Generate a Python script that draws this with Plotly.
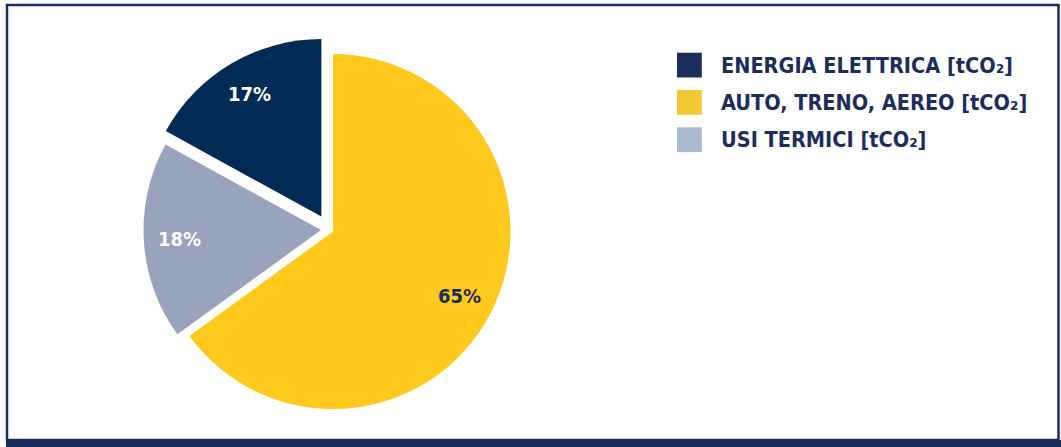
import math
import plotly.graph_objects as go

W, H = 1061, 447

labels = ["ENERGIA ELETTRICA [tCO₂]", "AUTO, TRENO, AEREO [tCO₂]", "USI TERMICI [tCO₂]"]
values = [17, 65, 18]
slice_colors = ["#012b55", "#ffca1d", "#99a3bb"]
legend_colors = ["#1b2d5b", "#f2c932", "#a8b9cb"]
text_colors = ["#ffffff", "#1b2d5b", "#ffffff"]
pulls = [0.0845, 0.0254, 0.045]

NAVY = "#1b2d5b"
FONT = "DejaVu Sans Condensed, Liberation Sans Narrow, Roboto, sans-serif"

# pie geometry (pixels)
CX, CY = 329.0, 229.5
HALF = 192.5
ROT = -61.2


def px(x):
    return x / W


def py(y):
    return 1 - y / H


fig = go.Figure()
fig.add_trace(go.Pie(
    labels=labels,
    values=values,
    sort=False,
    direction="clockwise",
    rotation=ROT,
    pull=pulls,
    marker=dict(colors=slice_colors, line=dict(width=0)),
    textinfo="none",
    showlegend=False,
    hoverinfo="label+percent",
    domain=dict(x=[px(CX - HALF), px(CX + HALF)], y=[py(CY + HALF), py(CY - HALF)]),
))

# percentage labels placed along each slice's bisector
r = HALF / (1 + max(pulls))
total = sum(values)
annotations = []
cum = 0
for v, p, tc in zip(values, pulls, text_colors):
    ang = math.radians(ROT + (cum + v / 2) / total * 360)
    cum += v
    dx, dy = math.sin(ang), -math.cos(ang)
    dist = (p + 0.8) * r
    annotations.append(dict(xref="paper", yref="paper", x=px(CX + dist * dx), y=py(CY + dist * dy),
                            xanchor="center", yanchor="middle", showarrow=False,
                            text="<b>%d%%</b>" % round(v / total * 100),
                            font=dict(family=FONT, size=20, color=tc)))

shapes = [
    dict(type="rect", xref="paper", yref="paper", x0=px(7), x1=px(1058.5), y0=py(440), y1=py(5),
         line=dict(color=NAVY, width=2.5), fillcolor="rgba(0,0,0,0)", layer="below"),
    dict(type="rect", xref="paper", yref="paper", x0=px(6), x1=px(1061), y0=py(447), y1=py(440),
         line=dict(width=0), fillcolor="#192b57"),
]
row_top = 52.7
row_gap = 37.3
sq = 24.8
for i, (lab, col) in enumerate(zip(labels, legend_colors)):
    y0 = row_top + i * row_gap
    shapes.append(dict(type="rect", xref="paper", yref="paper", x0=px(677), x1=px(677 + sq),
                       y0=py(y0 + sq), y1=py(y0), line=dict(width=0), fillcolor=col))
    annotations.append(dict(xref="paper", yref="paper", x=px(719), y=py(y0 + sq / 2),
                            xanchor="left", yanchor="middle", showarrow=False,
                            text="<b>" + lab + "</b>",
                            font=dict(family=FONT, size=21.5, color=NAVY)))

fig.update_layout(
    width=W, height=H,
    margin=dict(l=0, r=0, t=0, b=0),
    paper_bgcolor="white",
    plot_bgcolor="white",
    shapes=shapes,
    annotations=annotations,
)

fig.write_html(
    "out.html",
    config={"displayModeBar": False},
    post_script="document.body.style.margin='0';document.body.style.overflow='hidden';",
)
